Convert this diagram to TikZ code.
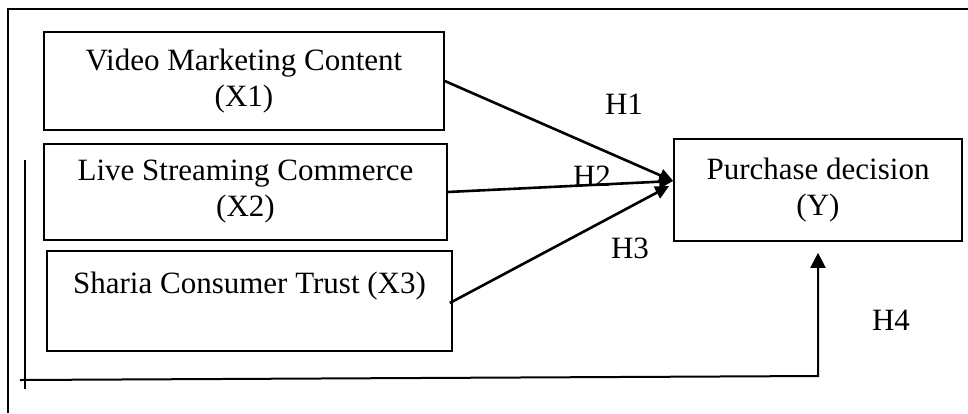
\documentclass[tikz,border=0pt]{standalone}
\usepackage{fontspec}
\setmainfont{Liberation Serif}
\usetikzlibrary{arrows.meta}

\begin{document}
\begin{tikzpicture}[x=1pt,y=-1pt,every node/.style={font=\fontsize{31}{36}\selectfont},var/.style={draw, line width=1.6pt, align=center, inner sep=0pt},hyp/.style={-{Triangle[length=14pt,width=13pt]}, line width=2.6pt},hypfour/.style={-{Triangle[length=15pt,width=15pt]}, line width=2pt}]
  \useasboundingbox (0,0) rectangle (968,413);
  \draw[line width=1.6pt] (8,413) -- (8,9) -- (968,9);
  % variables
  \node[var, minimum width=400pt, minimum height=98pt] (vmc) at (244,81) {Video Marketing Content\\(X1)};
  \node[var, minimum width=403pt, minimum height=96pt] (lsc) at (245.5,192) {Live Streaming Commerce\\(X2)};
  \node[var, minimum width=405pt, minimum height=100pt] (sct) at (249.5,301) {Sharia Consumer Trust (X3)\\\mbox{}};
  \node[var, minimum width=288pt, minimum height=102pt] (pd) at (818,190) {Purchase decision\\(Y)};
  \coordinate (pdin) at ([yshift=9pt]pd.west);
  \coordinate (pdlow) at ([xshift=-4pt,yshift=4pt]pd.west);
  % hypotheses
  \draw[hyp] (vmc.east) -- (pdin);
  \draw[hyp] (lsc.east) -- (pdin);
  \draw[hyp] ([xshift=-3pt,yshift=-2pt]sct.east) -- (pdlow);
  \node (h1) at (624,104) {H1};
  \node (h2) at (592,176) {H2};
  \node (h3) at (630,248) {H3};
  \node (h4) at (891,320) {H4};
  \draw[line width=1.6pt] (25,160) -- (25,389);
  \coordinate (brk) at (20,380);
  \draw[hypfour, shorten >=11pt] (brk) -- (pd.south |- 0,376) -- (pd.south);
\end{tikzpicture}
\end{document}
